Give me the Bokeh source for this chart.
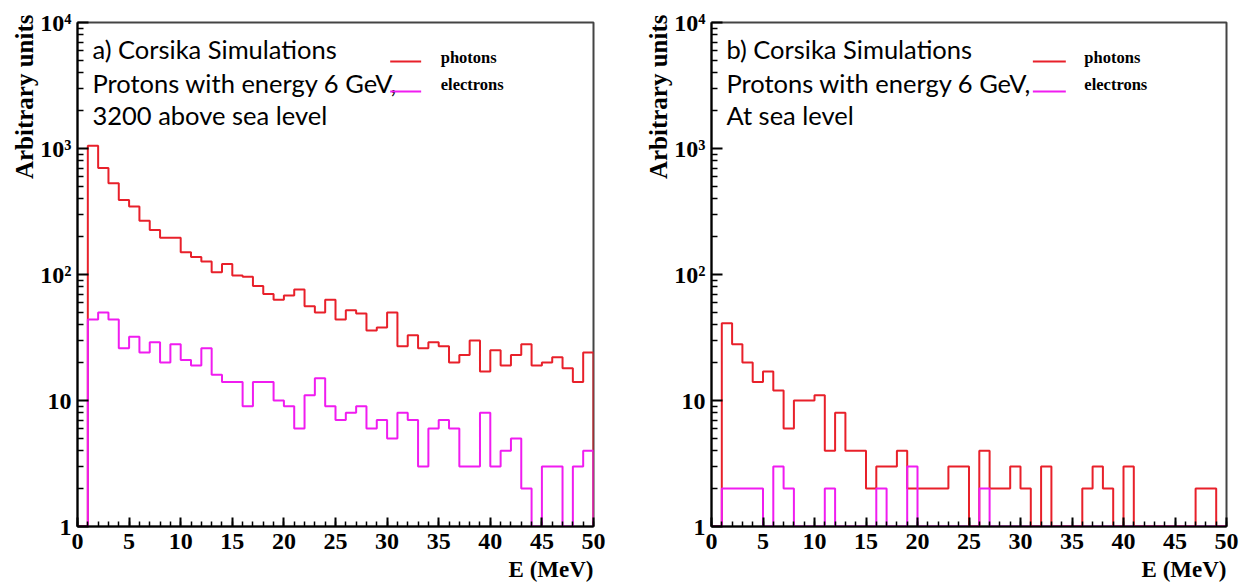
import numpy as np
from bokeh.plotting import figure
from bokeh.layouts import row
from bokeh.models import FixedTicker, Range1d, Title
from bokeh.core.properties import value
from bokeh.embed import file_html
from bokeh.resources import INLINE

# ---- data -------------------------------------------------------------
energy_edges = list(range(0, 51))          # MeV, 1 MeV bins
x_ticks = [0, 5, 10, 15, 20, 25, 30, 35, 40, 45, 50]
y_ticks = [1, 10, 100, 1000, 10000]
y_tick_labels = {1: "1", 10: "10", 100: "10²", 1000: "10³", 10000: "10⁴"}

# panel a) 3200 m above sea level (counts per bin, bins 0-1 ... 49-50)
photons_a = [0, 1050, 700, 530, 390, 347, 267, 226, 196, 196,
             150, 138, 127, 104, 121, 98, 96, 81, 70, 63,
             68, 76, 56, 50, 63, 44, 52, 49, 36, 38,
             50, 27, 33, 26, 29, 27, 20, 23, 30, 17,
             25, 19, 23, 28, 19, 20, 22, 18, 14, 24]
electrons_a = [0, 44, 50, 44, 26, 32, 24, 29, 20, 28,
               21, 19, 26, 16, 14, 14, 9, 14, 14, 10,
               9, 6, 11, 15, 9, 7, 8, 9, 6, 7,
               5, 8, 7, 3, 6, 7, 6, 3, 3, 8,
               3, 4, 5, 2, 0, 3, 3, 0, 3, 4]

# panel b) at sea level
photons_b = [0, 41, 28, 20, 14, 17, 12, 6, 10, 10,
             11, 4, 8, 4, 4, 2, 3, 3, 4, 2,
             2, 2, 2, 3, 3, 0, 4, 2, 2, 3,
             2, 0, 3, 0, 0, 0, 2, 3, 2, 0,
             3, 0, 0, 0, 0, 0, 0, 2, 2, 0]
electrons_b = [0, 2, 2, 2, 2, 0, 3, 2, 0, 0,
               0, 2, 0, 0, 0, 0, 2, 0, 0, 3,
               0, 0, 0, 0, 0, 0, 2, 0, 0, 0,
               0, 0, 0, 0, 0, 0, 0, 0, 0, 0,
               0, 0, 0, 0, 0, 0, 0, 0, 0, 0]

text_a = ["a) Corsika Simulations", "Protons with energy 6 GeV,", "3200 above sea level"]
text_b = ["b) Corsika Simulations", "Protons with energy 6 GeV,", "At sea level"]
legend_labels = ["photons", "electrons"]
x_label = "E (MeV)"
y_label = "Arbitrary units"

RED = "#e8202a"
MAGENTA = "#f01cf0"

FRAME_TOP = 22
FRAME_BOTTOM = 526
Y_MIN, Y_MAX = 1, 10000


def ypx(py):
    """canvas pixel row -> data value on the log axis"""
    decade = (FRAME_BOTTOM - FRAME_TOP) / 4.0
    return 10 ** ((FRAME_BOTTOM - py) / decade)


def step_path(edges, counts):
    c = np.maximum(np.asarray(counts, dtype=float), Y_MIN)
    e = np.asarray(edges, dtype=float)
    xs = np.repeat(e, 2)
    ys = np.concatenate([[Y_MIN], np.repeat(c, 2), [Y_MIN]])
    return xs, ys


def make_panel(photons, electrons, lines, frame_w, right_border, leg_x0, leg_x1, leg_tx):
    p = figure(frame_width=frame_w, frame_height=FRAME_BOTTOM - FRAME_TOP,
               min_border_left=77, min_border_right=right_border,
               min_border_top=FRAME_TOP, min_border_bottom=60,
               x_range=Range1d(0, 50), y_range=Range1d(Y_MIN, Y_MAX),
               y_axis_type="log", output_backend="svg", toolbar_location=None,
               background_fill_color="white", border_fill_color="white")
    p.xgrid.visible = False
    p.ygrid.visible = False
    p.outline_line_color = "#444444"
    p.outline_line_width = 2

    p.xaxis.ticker = FixedTicker(ticks=x_ticks, minor_ticks=energy_edges)
    p.yaxis.ticker = FixedTicker(ticks=y_ticks,
                                 minor_ticks=[k * 10 ** d for d in range(4) for k in range(2, 10)])
    p.yaxis.major_label_overrides = y_tick_labels
    for ax in (p.xaxis, p.yaxis):
        ax.axis_line_color = "black"
        ax.axis_line_width = 2
        ax.major_tick_line_color = "black"
        ax.minor_tick_line_color = "black"
        ax.major_tick_line_width = 2
        ax.minor_tick_line_width = 1.5
        ax.major_tick_out = 0
        ax.minor_tick_out = 0
        ax.major_label_text_font = "Liberation Serif"
        ax.major_label_text_font_style = "bold"
        ax.major_label_text_font_size = "24px"
        ax.major_label_text_color = "black"
    p.xaxis.major_tick_in = 9
    p.xaxis.minor_tick_in = 5
    p.yaxis.major_tick_in = 11
    p.yaxis.minor_tick_in = 6
    p.xaxis.major_label_standoff = 7
    p.yaxis.major_label_standoff = 6

    xt = Title(text=x_label, align="right", text_font="Liberation Serif",
               text_font_style="bold", text_font_size="23px", standoff=7,
               text_color="black")
    p.add_layout(xt, "below")
    yt = Title(text=y_label, align="right", text_font="Liberation Serif",
               text_font_style="bold", text_font_size="25px", standoff=0,
               text_color="black", offset=-8)
    p.add_layout(yt, "left")

    xs, ys = step_path(energy_edges, photons)
    p.line(xs, ys, line_color=RED, line_width=2)
    xs, ys = step_path(energy_edges, electrons)
    p.line(xs, ys, line_color=MAGENTA, line_width=2)

    # annotation text
    for txt, by in zip(lines, [48, 82, 114]):
        p.text(x=[1.45], y=[ypx(by)], text=[txt], text_font=value("Lato"),
               text_font_size="25.5px", text_baseline="alphabetic", text_align="left",
               text_color="black")

    # legend
    p.line([leg_x0, leg_x1], [ypx(61), ypx(61)], line_color=RED, line_width=2)
    p.line([leg_x0, leg_x1], [ypx(91), ypx(91)], line_color=MAGENTA, line_width=2)
    for lab, cy in zip(legend_labels, [57, 84]):
        p.text(x=[leg_tx], y=[ypx(cy)], text=[lab], text_font=value("Liberation Serif"),
               text_font_style="bold", text_font_size="16.5px", text_baseline="middle",
               text_align="left", text_color="black")
    return p


p1 = make_panel(photons_a, electrons_a, text_a, 516, 41, 30.3, 33.3, 35.2)
p2 = make_panel(photons_b, electrons_b, text_b, 515, 21, 31.2, 34.4, 36.2)

layout = row(p1, p2)
open("out.html", "w").write(file_html(layout, INLINE))
